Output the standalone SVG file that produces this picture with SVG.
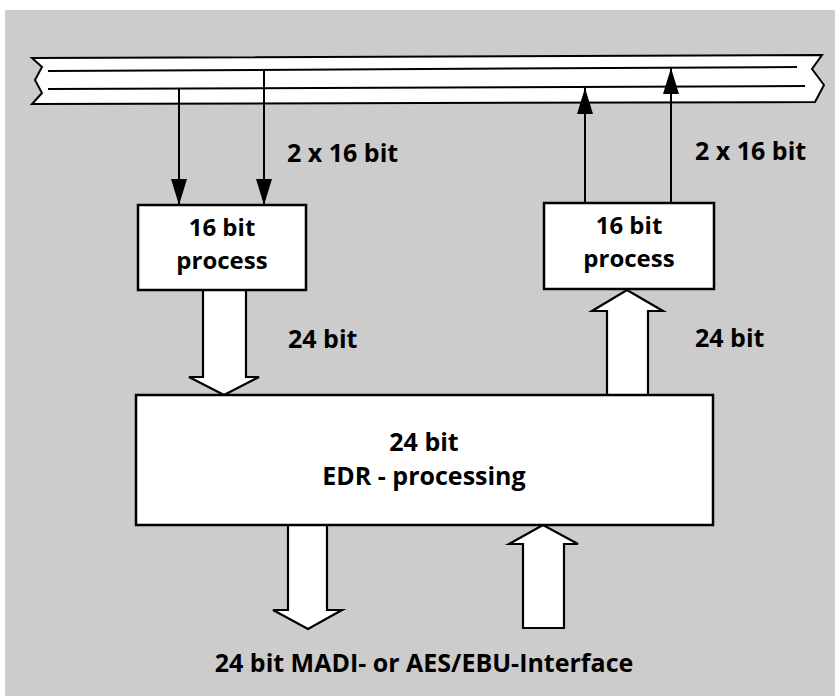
<svg xmlns="http://www.w3.org/2000/svg" width="835" height="696" viewBox="0 0 835 696">
<defs>
<style>
.bg{fill:#cccccc}
.box{fill:#ffffff;stroke:#000;stroke-width:2.5}
.fat{fill:#ffffff;stroke:#000;stroke-width:2.2;stroke-linejoin:miter}
.ln{stroke:#000;stroke-width:2;fill:none}
.t{font-family:"Open Sans","Liberation Sans",sans-serif;font-weight:bold;font-size:25px;fill:#000}
.s{font-size:24px}
.m{text-anchor:middle}
</style>
<marker id="a" viewBox="0 0 26 16" refX="26" refY="8" markerWidth="26" markerHeight="16" markerUnits="userSpaceOnUse" orient="auto">
<path d="M0,0 L26,8 L0,16 Z" fill="#000"/>
</marker>
</defs>
<rect x="0" y="0" width="835" height="696" fill="#ffffff"/>
<rect class="bg" x="5" y="10" width="830" height="686"/>
<g id="bus">
<path d="M32,58 L822,55 L812,69 L824,85 L815,102 L32,104 L42,93 L35,80 L42,67 Z" fill="#ffffff" stroke="#000" stroke-width="2"/>
<line class="ln" x1="48" y1="71" x2="797" y2="67"/>
<line class="ln" x1="48" y1="89" x2="805" y2="86"/>
</g>
<g id="connectors">
<line class="ln" x1="179" y1="89" x2="179" y2="205" marker-end="url(#a)"/>
<line class="ln" x1="264" y1="70" x2="264" y2="205" marker-end="url(#a)"/>
<line class="ln" x1="585" y1="203" x2="585" y2="88" marker-end="url(#a)"/>
<line class="ln" x1="671" y1="203" x2="671" y2="68" marker-end="url(#a)"/>
<path class="fat" d="M203,290 L246,290 L246,377 L259,377 L224,395 L189,377 L203,377 Z"/>
<path class="fat" d="M607,395 L648,395 L648,311 L663,311 L627,290 L592,311 L607,311 Z"/>
<path class="fat" d="M288,525 L327,525 L327,610 L342,610 L308,629 L273,610 L288,610 Z"/>
<path class="fat" d="M523,628 L564,628 L564,544 L578,544 L543,525 L509,544 L523,544 Z"/>
</g>
<g id="proc-left">
<rect class="box" x="138" y="205" width="168" height="85"/>
<text class="t s m" x="222" y="236">16 bit</text>
<text class="t s m" x="222" y="269">process</text>
</g>
<g id="proc-right">
<rect class="box" x="544" y="203" width="170" height="86"/>
<text class="t s m" x="629" y="234">16 bit</text>
<text class="t s m" x="629" y="267">process</text>
</g>
<g id="edr">
<rect class="box" x="136" y="395" width="577" height="130"/>
<text class="t m" x="424" y="451">24 bit</text>
<text class="t m" x="424" y="485">EDR - processing</text>
</g>
<g id="labels">
<text class="t" x="287" y="162">2 x 16 bit</text>
<text class="t" x="695" y="160">2 x 16 bit</text>
<text class="t" x="288" y="348">24 bit</text>
<text class="t" x="695" y="347">24 bit</text>
<text class="t m" x="424" y="672">24 bit MADI- or AES/EBU-Interface</text>
</g>
</svg>
